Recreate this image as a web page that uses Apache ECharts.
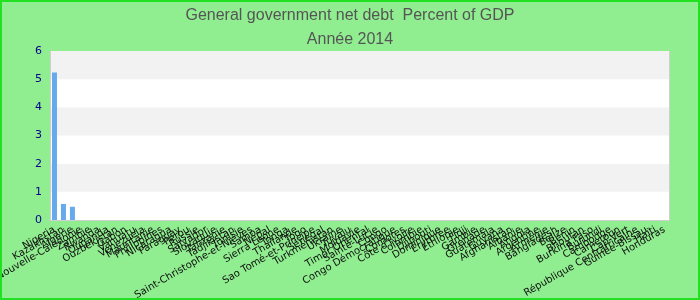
<!DOCTYPE html>
<html>
<head>
<meta charset="utf-8">
<script src="https://cdn.jsdelivr.net/npm/echarts@6/dist/echarts.min.js"></script>
<style>
html,body{margin:0;padding:0;}
#wrap{position:relative;width:700px;height:300px;background:#90EE90;}
#chart{position:absolute;left:0;top:0;width:700px;height:300px;}
#frame{position:absolute;left:0;top:0;width:700px;height:300px;box-sizing:border-box;border:2px solid #22e022;pointer-events:none;}
</style>
</head>
<body>
<div id="wrap"><div id="chart"></div><div id="frame"></div></div>
<script>
const categories = ["Nigeria","Kazakhstan","Algérie","Nouvelle-Calédonie","Zambie","Rwanda","Ouganda","Ouzbékistan","Gabon","Vanuatu","Venezuela","Mauritanie","Philippines","Nicaragua","Paraguay","Pérou","Russie","Salvador","Slovaquie","Tanzanie","Tadjikistan","Tunisie","Saint-Christophe-et-Niévès","Samoa","Népal","Sierra Leone","Tonga","Thaïlande","Togo","Sao Tomé-et-Principe","Sénégal","Turkménistan","Ukraine","Tuvalu","Moldavie","Timor Oriental","Sainte-Lucie","Congo","Congo Démocratique","Comores","Côte d'Ivoire","Colombie","Djibouti","Dominique","Érythrée","Éthiopie","Fidji","Gambie","Grenade","Guatemala","Guyana","Afghanistan","Albanie","Angola","Argentine","Arménie","Bangladesh","Belize","Bénin","Bhoutan","Burkina Faso","Burundi","Cambodge","Cameroun","Cap-Vert","République Centrafricaine","Guinée-Bissau","Haïti","Honduras"];
const values = [5.24,0.57,0.47,0,0,0,0,0,0,0,0,0,0,0,0,0,0,0,0,0,0,0,0,0,0,0,0,0,0,0,0,0,0,0,0,0,0,0,0,0,0,0,0,0,0,0,0,0,0,0,0,0,0,0,0,0,0,0,0,0,0,0,0,0,0,0,0,0,0];
const yTicks = {min:0, max:6, interval:1};
const titleText = "General government net debt  Percent of GDP";
const subText = "Année 2014";

const frameLine = {show: true, lineStyle: {color: '#d0d0d0', width: 1}};
const chart = echarts.init(document.getElementById('chart'), null, {renderer:'canvas'});
chart.setOption({
  backgroundColor: 'transparent',
  animation: false,
  title: {
    text: titleText,
    subtext: subText,
    left: 'center',
    top: 3,
    itemGap: 8,
    textStyle: {fontSize: 16, fontWeight: 'normal', color: '#555', fontFamily: 'Liberation Sans'},
    subtextStyle: {fontSize: 16, color: '#555', fontFamily: 'Liberation Sans'}
  },
  grid: {left: 50, right: 31, top: 51, bottom: 80, outerBoundsMode: 'none', containLabel: false,
         show: true, backgroundColor: '#ffffff', borderWidth: 0},
  xAxis: [{
    type: 'category',
    data: categories,
    axisLine: frameLine,
    axisTick: {show: false},
    axisLabel: {interval: 0, rotate: 30, fontSize: 10, color: '#111', margin: 9, fontFamily: 'DejaVu Sans'}
  }, {
    type: 'category', position: 'top', data: categories,
    axisLine: frameLine, axisTick: {show: false}, axisLabel: {show: false}
  }],
  yAxis: [{
    type: 'value',
    min: yTicks.min, max: yTicks.max, interval: yTicks.interval,
    axisLine: frameLine,
    axisTick: {show: false},
    splitLine: {show: false},
    splitArea: {show: true, areaStyle: {color: ['#ffffff', '#f2f2f2']}},
    axisLabel: {color: '#00008b', fontSize: 11, margin: 8, fontFamily: 'DejaVu Sans'}
  }, {
    type: 'value', position: 'right',
    min: yTicks.min, max: yTicks.max, interval: yTicks.interval,
    axisLine: frameLine, axisTick: {show: false}, splitLine: {show: false}, axisLabel: {show: false}
  }],
  series: [{
    type: 'bar',
    data: values,
    barWidth: 5,
    itemStyle: {color: '#66aaee'}
  }]
});
</script>
</body>
</html>
